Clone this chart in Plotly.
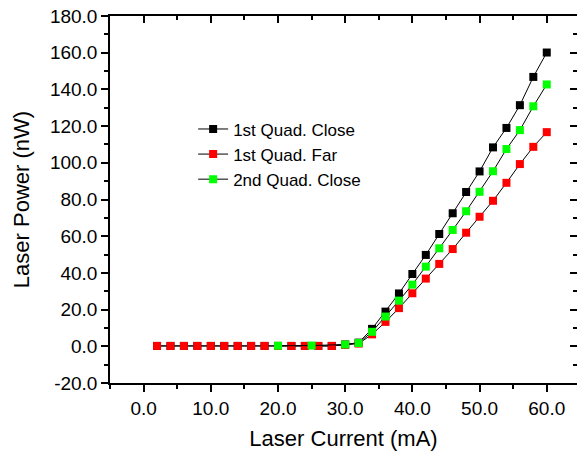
import plotly.graph_objects as go

# ---- data ----
x_black = [2, 4, 6, 8, 10, 12, 14, 16, 18, 20, 22, 24, 26, 28, 30,
           32, 34, 36, 38, 40, 42, 44, 46, 48, 50, 52, 54, 56, 58, 60]
y_black = [0.2, 0.2, 0.2, 0.2, 0.2, 0.2, 0.2, 0.2, 0.2, 0.2, 0.2, 0.2, 0.2, 0.2, 1.0,
           2.0, 9.5, 18.9, 28.8, 39.4, 49.8, 61.2, 72.5, 84.1, 95.3, 108.4, 119.0, 131.4, 146.8, 160.1]

x_red = [2, 4, 6, 8, 10, 12, 14, 16, 18, 20, 22, 24, 26, 28, 30,
         32, 34, 36, 38, 40, 42, 44, 46, 48, 50, 52, 54, 56, 58, 60]
y_red = [0.2, 0.2, 0.2, 0.2, 0.2, 0.2, 0.2, 0.2, 0.2, 0.2, 0.2, 0.2, 0.2, 0.2, 0.8,
         1.5, 6.5, 13.3, 20.8, 28.9, 36.9, 44.9, 53.0, 61.9, 70.6, 79.3, 89.1, 99.3, 108.7, 116.7]

x_green = [20, 25, 30, 32, 34, 36, 38, 40, 42, 44, 46, 48, 50, 52, 54, 56, 58, 60]
y_green = [0.3, 0.4, 1.0, 1.8, 7.9, 16.2, 24.9, 33.6, 43.4, 53.4, 63.4, 73.6, 84.2, 95.4, 107.5, 117.8, 130.8, 142.7]

series_names = ["1st Quad. Close", "1st Quad. Far", "2nd Quad. Close"]
series_colors = ["#000000", "#FF0000", "#00FF00"]

x_tickvals = [0, 10, 20, 30, 40, 50, 60]
y_tickvals = [-20, 0, 20, 40, 60, 80, 100, 120, 140, 160, 180]
x_ticktext = [f"{v:.1f}" for v in x_tickvals]
y_ticktext = [f"{v:.1f}" for v in y_tickvals]

FONT = "Liberation Sans"

fig = go.Figure()
for xs, ys, name, col in zip([x_black, x_red, x_green], [y_black, y_red, y_green],
                             series_names, series_colors):
    fig.add_trace(go.Scatter(
        x=xs, y=ys, mode="lines+markers", name=name,
        line=dict(color="#000000", width=1),
        marker=dict(symbol="square", size=8, color=col, line=dict(width=0)),
    ))

# invisible trace to activate mirrored axes
fig.add_trace(go.Scatter(x=[None], y=[None], xaxis="x2", yaxis="y2",
                         showlegend=False, hoverinfo="skip"))

xr = [-5, 64.5]
yr = [-20, 180]

fig.update_layout(
    width=577, height=455,
    margin=dict(l=110, r=0, t=16, b=72),
    plot_bgcolor="white", paper_bgcolor="white",
    font=dict(family=FONT, color="#000000"),
    showlegend=True,
    legend=dict(x=0.178, y=0.74, xanchor="left", yanchor="top",
                font=dict(size=17, family=FONT), bgcolor="rgba(0,0,0,0)",
                tracegroupgap=0),
    xaxis=dict(range=xr, tickvals=x_tickvals, ticktext=x_ticktext,
               ticks="outside", ticklen=7, tickwidth=1.5, tickcolor="#000",
               minor=dict(dtick=5, tick0=0, ticks="outside", ticklen=4, tickwidth=1.5, tickcolor="#000"),
               showline=True, linecolor="#000", linewidth=1.5, showgrid=False, zeroline=False,
               tickfont=dict(size=19, family=FONT),
               title=dict(text="Laser Current (mA)", font=dict(size=22, family=FONT), standoff=13)),
    yaxis=dict(range=yr, tickvals=y_tickvals, ticktext=y_ticktext,
               ticks="outside", ticklen=7, tickwidth=1.5, tickcolor="#000",
               minor=dict(dtick=10, tick0=0, ticks="outside", ticklen=4, tickwidth=1.5, tickcolor="#000"),
               showline=True, linecolor="#000", linewidth=1.5, showgrid=False, zeroline=False,
               tickfont=dict(size=19, family=FONT),
               title=dict(text="Laser Power (nW)", font=dict(size=22, family=FONT), standoff=14)),
    xaxis2=dict(range=xr, overlaying="x", side="top", tickvals=x_tickvals,
                ticks="inside", ticklen=7, tickwidth=1.5, tickcolor="#000",
                minor=dict(dtick=5, tick0=0, ticks="inside", ticklen=4, tickwidth=1.5, tickcolor="#000"),
                showticklabels=False, showline=True, linecolor="#000", linewidth=1.5,
                showgrid=False, zeroline=False),
    yaxis2=dict(range=yr, overlaying="y", side="right", tickvals=y_tickvals,
                ticks="inside", ticklen=7, tickwidth=1.5, tickcolor="#000",
                minor=dict(dtick=10, tick0=0, ticks="inside", ticklen=4, tickwidth=1.5, tickcolor="#000"),
                showticklabels=False, showline=True, linecolor="#000", linewidth=1.5,
                showgrid=False, zeroline=False),
)

fig.write_html("out.html")
